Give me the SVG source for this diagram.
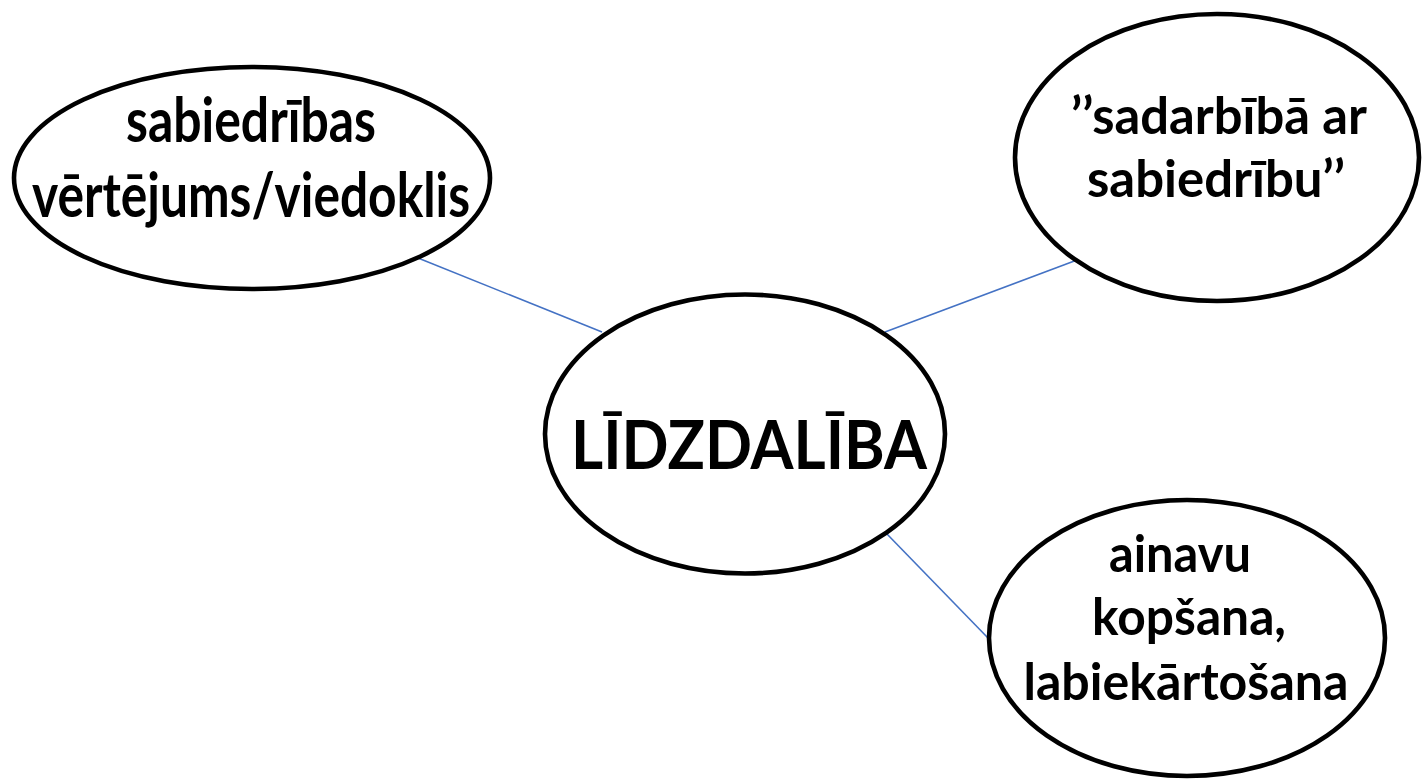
<svg xmlns="http://www.w3.org/2000/svg" width="1422" height="781" viewBox="0 0 1422 781">
<style>
.node{fill:#fff;stroke:#000;stroke-width:4.6}
.lbl{font-family:Lato,"Open Sans","Liberation Sans",sans-serif;font-weight:bold;fill:#000;text-anchor:middle}
.conn{stroke:#4472C4;stroke-width:1.6;fill:none}
</style>
<rect width="1422" height="781" fill="#fff"/>
<g id="connectors">
<line class="conn" x1="418" y1="258" x2="602" y2="332"/>
<line class="conn" x1="885" y1="332" x2="1077" y2="260"/>
<line class="conn" x1="886" y1="533" x2="988" y2="638"/>
</g>
<g id="node-left">
<ellipse class="node" cx="252" cy="178" rx="238" ry="111"/>
<text class="lbl" font-size="62" x="251" y="142" textLength="250" lengthAdjust="spacingAndGlyphs">sabiedrības</text>
<text class="lbl" font-size="62" x="251" y="217" textLength="438" lengthAdjust="spacingAndGlyphs">vērtējums/viedoklis</text>
</g>
<g id="node-right-top">
<ellipse class="node" cx="1217" cy="157.5" rx="202" ry="143.5"/>
<text class="lbl" font-size="52" x="1219" y="134" textLength="296" lengthAdjust="spacingAndGlyphs">’’sadarbībā ar</text>
<text class="lbl" font-size="52" x="1216" y="197" textLength="258" lengthAdjust="spacingAndGlyphs">sabiedrību’’</text>
</g>
<g id="node-center">
<ellipse class="node" cx="745" cy="434" rx="200" ry="139.5"/>
<text class="lbl" font-size="66" x="749" y="469" textLength="356" lengthAdjust="spacingAndGlyphs">LĪDZDALĪBA</text>
</g>
<g id="node-right-bottom">
<ellipse class="node" cx="1187" cy="638" rx="198" ry="138"/>
<text class="lbl" font-size="52" x="1180" y="572" textLength="142" lengthAdjust="spacingAndGlyphs">ainavu</text>
<text class="lbl" font-size="52" x="1189" y="635" textLength="194" lengthAdjust="spacingAndGlyphs">kopšana,</text>
<text class="lbl" font-size="52" x="1186" y="700" textLength="325" lengthAdjust="spacingAndGlyphs">labiekārtošana</text>
</g>
</svg>
